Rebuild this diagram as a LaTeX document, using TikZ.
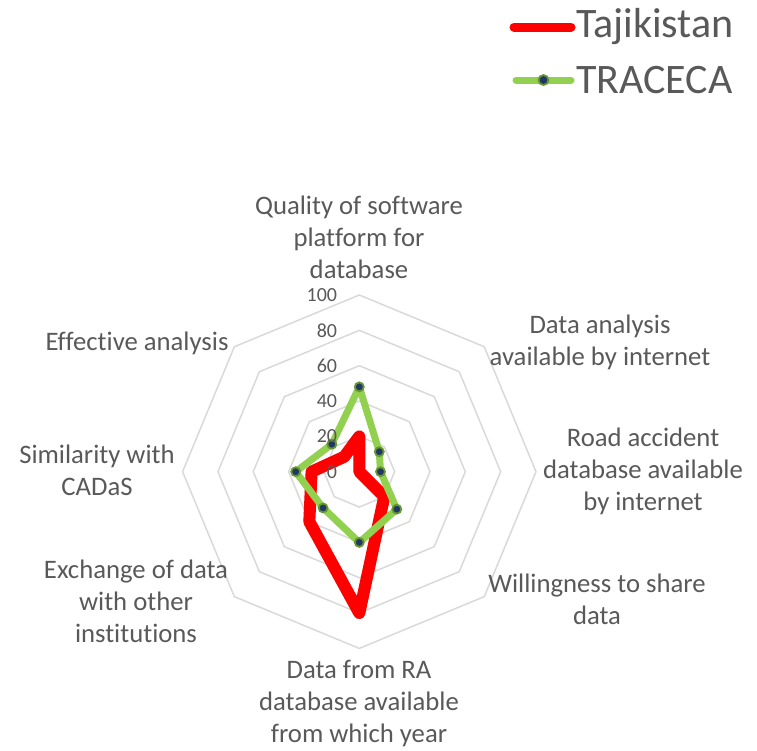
\documentclass[tikz,border=0pt]{standalone}
\usepackage{fontspec}
\setmainfont{Carlito}[Ligatures=CommonOff]
\usetikzlibrary{calc}
\definecolor{gridgray}{RGB}{217,217,217}
\definecolor{labelgray}{RGB}{89,89,89}
\definecolor{tajred}{RGB}{255,0,0}
\definecolor{tracgreen}{RGB}{146,208,80}
\definecolor{ringgreen}{RGB}{104,150,50}
\definecolor{dotblue}{RGB}{31,56,100}
\def\rr{1.767}
\tikzset{gridline/.style={gridgray, line width=1.5pt},
catlabel/.style={text=labelgray, align=center, inner sep=0pt, font=\fontsize{26.7}{32}\selectfont},
ticklabel/.style={text=labelgray, anchor=east, inner sep=0pt, font=\fontsize{20}{24}\selectfont},
legtext/.style={text=labelgray, anchor=base west, inner sep=0pt, font=\fontsize{42}{50}\selectfont},
tajline/.style={tajred, line width=12pt, line join=round, line cap=round},
tracline/.style={tracgreen, line width=7pt, line join=round, line cap=round},
%marker of the TRACECA series
dot/.style={circle, fill=dotblue, draw=ringgreen, line width=1.8pt, minimum size=9pt, inner sep=0pt}}

\begin{document}
\begin{tikzpicture}[x=1pt,y=1pt]
\useasboundingbox (-359.3,-278.3) rectangle (397.7,471.7);
% grid
\foreach \v in {20,40,...,100}
  \draw[gridline] (90:\v*\rr) \foreach \a in {45,0,...,-225}{ -- (\a:\v*\rr)} -- cycle;

% series
\foreach \a/\v [count=\i] in {90/20,45/0,0/0,-45/20,-90/80,-135/40,180/27,135/12}
  \coordinate (tj\i) at (\a:\v*\rr);
\foreach \a/\v [count=\i] in {90/48,45/16,0/12,-45/30,-90/40,-135/29,180/36,135/22}
  \coordinate (tr\i) at (\a:\v*\rr);

\draw[tajline, black, opacity=0.12, shift={(2.5,-3.5)}] (tj1) -- (tj2) -- (tj3) -- (tj4) -- (tj5) -- (tj6) -- (tj7) -- (tj8) -- cycle;
\draw[tajline] (tj1) -- (tj2) -- (tj3) -- (tj4) -- (tj5) -- (tj6) -- (tj7) -- (tj8) -- cycle;
\draw[tracline] (tr1) -- (tr2) -- (tr3) -- (tr4) -- (tr5) -- (tr6) -- (tr7) -- (tr8) -- cycle;
\foreach \i in {1,...,8}
  \node[dot] (trdot\i) at (tr\i) {};

% scale labels
\foreach \v in {0,20,...,100}
  \node[ticklabel] (tick\v) at (-22,\v*\rr) {\v};

% category labels
\node[catlabel] (qual) at (-0.3,234.7) {Quality of software\\platform for\\database};
\node[catlabel] (anal) at (240.7,129.2) {Data analysis\\available by internet};
\node[catlabel] (road) at (283.7,0.7) {Road accident\\database available\\by internet};
\node[catlabel] (will) at (237.7,-127.3) {Willingness to share\\data};
\node[catlabel] (year) at (-0.3,-231.3) {Data from RA\\database available\\from which year};
\node[catlabel] (exch) at (-223.3,-129.3) {Exchange of data\\with other\\institutions};
\node[catlabel] (simi) at (-262.3,1.7) {Similarity with\\CADaS};
\node[catlabel] (effe) at (-222.3,128.7) {Effective analysis};

% legend
\node[legtext] (tajleg) at (216.7,433.7) {Tajikistan};
\node[legtext] (trleg) at (216.7,378.2) {TRACECA};
\coordinate (tajA) at ([xshift=-62pt]tajleg.west);
\coordinate (tajB) at ([xshift=-5pt]tajleg.west);
\coordinate (trA) at ([xshift=-60pt]trleg.west);
\coordinate (trB) at ([xshift=-5pt]trleg.west);
\draw[tajline, line width=9pt] (tajA) -- (tajB);
\draw[tracline] (trA) -- (trB);
\node[dot, minimum size=10pt] (trlegdot) at ($(trA)!0.5!(trB)$) {};
\end{tikzpicture}
\end{document}
